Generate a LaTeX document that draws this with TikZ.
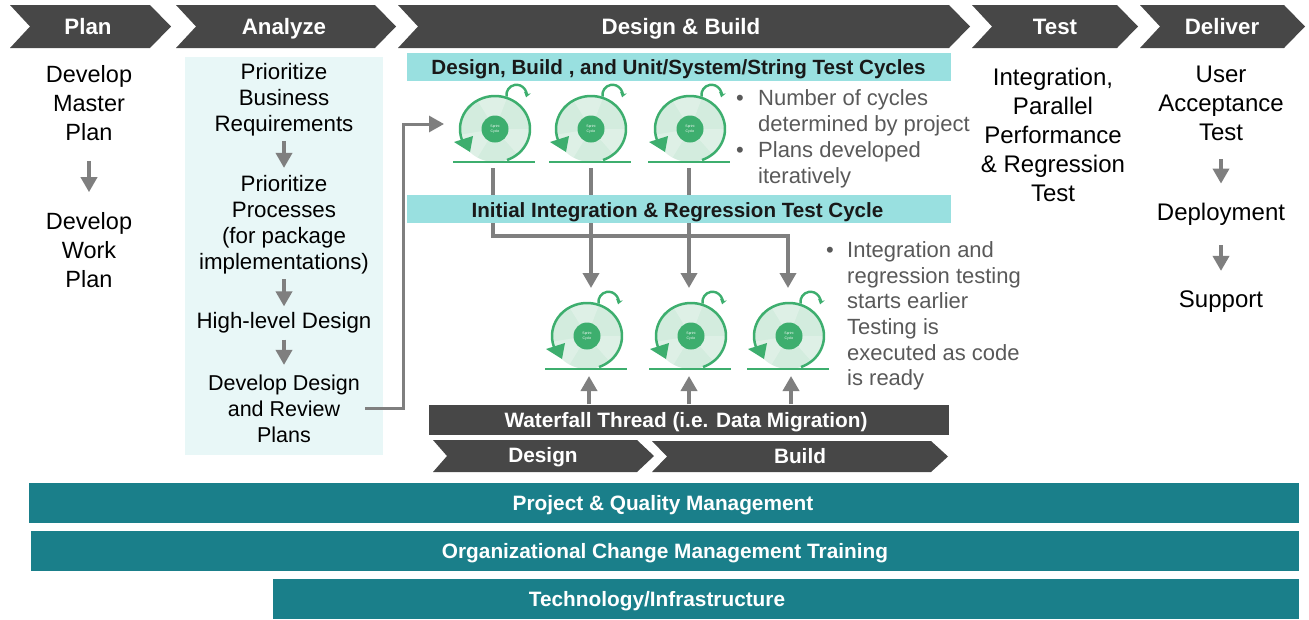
\documentclass[tikz,border=0pt]{standalone}
\usepackage{fontspec}
\setmainfont{Liberation Sans}
\usetikzlibrary{arrows.meta}
\definecolor{chevrongray}{HTML}{474747}
\definecolor{arrowgray}{HTML}{7F7F7F}
\definecolor{palecyan}{HTML}{E8F7F7}
\definecolor{bandcyan}{HTML}{99E0E0}
\definecolor{barteal}{HTML}{1A7F8A}
\definecolor{cyclegreen}{HTML}{3DAE6E}
\definecolor{discgreen}{HTML}{D3ECDE}
\definecolor{notegray}{HTML}{595959}
\tikzset{
  steptext/.style={inner sep=0pt,align=center,text=black,font=\fontsize{22.3}{26}\selectfont},
  plantext/.style={steptext,font=\fontsize{23.5}{29}\selectfont},
  testtext/.style={steptext,font=\fontsize{24}{29.2}\selectfont},
  headtext/.style={inner sep=0pt,text height=16pt,text depth=0pt,text=white,font=\fontsize{22.3}{26}\selectfont\bfseries},
  bartext/.style={inner sep=0pt,text height=15pt,text depth=0pt,text=white,font=\fontsize{20.8}{24}\selectfont\bfseries},
  bandtext/.style={inner sep=0pt,text height=15pt,text depth=0pt,text=black!90,font=\fontsize{20.6}{24}\selectfont\bfseries},
  notetext/.style={inner sep=0pt,align=left,anchor=west,text=notegray,font=\fontsize{22}{25.7}\selectfont},
  flowarrow/.style={draw=arrowgray,line width=3.6pt,-{Triangle[length=15pt,width=16pt]}},
  cycleicon/.pic={
    % Disc with pale blades
    \fill[discgreen] (42,-33) ellipse [x radius=35,y radius=33];
    \foreach \a in {0,120,240} {
      \fill[white,opacity=0.25] (42,-33) -- (42+35*cos \a,-33+33*sin \a)
        arc[start angle=\a,delta angle=50,x radius=35,y radius=33] -- cycle;
    }
    % Ground line and round arrow
    \draw[cyclegreen,line width=2.5pt] (0,0) -- (82,0);
    \draw[cyclegreen,line width=2.5pt] (42+35*cos 70,-33+33*sin 70)
      arc[start angle=70,end angle=-213,x radius=35,y radius=33];
    \fill[cyclegreen] (1,-20) -- (20,-26) -- (17,-10) -- cycle;
    % Small hook
    \draw[cyclegreen,line width=2.4pt,-{Stealth[length=5pt,width=7pt]}] (53.6,-65.5)
      arc[start angle=170,end angle=375,radius=10];
    % Centre
    \node[circle,fill=cyclegreen,minimum size=27pt,inner sep=0pt,align=center,text=white,
      font=\fontsize{3.5}{4.5}\selectfont] (-hub) at (42,-33) {Sprint\\Cycle};
  }
}
\begin{document}
\begin{tikzpicture}[x=1pt,y=-1pt]
  \useasboundingbox (0,0) rectangle (1309,619);
  % Phase chevrons
  \foreach \nm/\xa/\xb/\xt/\lbl in {plan/10/150/88/Plan,analyze/176/375/284/Analyze,
      design/398/949/681/Design \& Build,test/972/1117/1055/Test,deliver/1140/1284/1222/Deliver} {
    \fill[chevrongray] (\xa,5) -- (\xb,5) -- (\xb+21,26.5) -- (\xb,48) -- (\xa,48) -- (\xa+20,26.5) -- cycle;
    \node[headtext] (\nm) at (\xt,26) {\lbl};
  }
  % Analyze background
  \fill[palecyan] (185,57) rectangle (383,455);
  % Plan column
  \node[plantext] (masterplan) at (89,103) {Develop\\Master\\Plan};
  \node[plantext] (workplan) at (89,250) {Develop\\Work\\Plan};
  \draw[flowarrow,shorten <=20pt,shorten >=20pt] (masterplan.south) -- (workplan.north);
  % Analyze column
  \node[steptext] (bizreq) at (284,99.5) {Prioritize\\Business\\Requirements};
  \node[steptext] (processes) at (284,224.5) {Prioritize\\Processes\\(for package\\implementations)};
  \node[steptext] (highlevel) at (284,323) {High-level Design};
  \node[steptext,font=\fontsize{21.5}{26}\selectfont] (reviewplan) at (284,409) {Develop Design\\and Review\\Plans};
  \draw[flowarrow,shorten <=5pt,shorten >=7pt] (bizreq.south) -- (processes.north);
  \draw[flowarrow,shorten <=5pt,shorten >=6pt] (processes.south) -- (highlevel.north);
  \draw[flowarrow,shorten <=6pt,shorten >=10pt] (highlevel.south) -- (reviewplan.north);
  % Test and Deliver columns
  \node[testtext] (integration) at (1053,135) {Integration,\\Parallel\\Performance\\\& Regression\\Test};
  \node[testtext] (uat) at (1221,103.5) {User\\Acceptance\\Test};
  \node[testtext] (deployment) at (1221,214) {Deployment};
  \node[testtext] (support) at (1221,302) {Support};
  \draw[flowarrow,shorten <=18pt,shorten >=19pt] (uat.south) -- (deployment.north);
  \draw[flowarrow,shorten <=20pt,shorten >=20pt] (deployment.south) -- (support.north);
  % Sprint icons
  \foreach \nm/\x/\y in {cyc1/453/162,cyc2/549/162,cyc3/648/162,cyc4/545/369,cyc5/649/369,cyc6/747/369} {
    \pic (\nm) at (\x,\y) {cycleicon};
  }
  % Links between the icon rows
  \coordinate (outa) at (493,168);
  \coordinate (outb) at (591,168);
  \coordinate (outc) at (689,168);
  \coordinate (ina) at (591,288);
  \coordinate (inb) at (689,288);
  \coordinate (inc) at (788,288);
  \draw[flowarrow] (outa) |- (788,236) -- (inc);
  \draw[flowarrow] (outb) -- (ina);
  \draw[flowarrow] (outc) -- (inb);
  % Entry from Analyze
  \coordinate (entry) at (444,124);
  \draw[flowarrow,line width=3pt,line join=miter,shorten <=5pt] (reviewplan.east |- 0,408) -- (403,408) -- (403,124) -- (entry);
  % Cyan bands
  \fill[bandcyan] (407,53) rectangle (951,81);
  \node[bandtext] (cycleband) at (678.5,67) {Design, Build , and Unit/System/String Test Cycles};
  \fill[bandcyan] (407,195) rectangle (951,223);
  \node[bandtext] (initband) at (677.5,209.5) {Initial Integration \& Regression Test Cycle};
  % Notes
  \node[notetext] (bulleta) at (736,100) {•};
  \node[notetext] (notea) at (758,113) {Number of cycles\\determined by project};
  \node[notetext] (bulletb) at (736,152) {•};
  \node[notetext] (noteb) at (758,164.5) {Plans developed\\iteratively};
  \node[notetext] (bulletc) at (826,252) {•};
  \node[notetext] (notec) at (847,316) {Integration and\\regression testing\\starts earlier\\Testing is\\executed as code\\is ready};
  % Waterfall thread
  \fill[chevrongray] (429,405) rectangle (949,435);
  \node[bartext] (waterfall) at (686,420) {Waterfall Thread (i.e. Data Migration)};
  \coordinate (upa) at (589,376);
  \coordinate (upb) at (689,376);
  \coordinate (upc) at (791,376);
  \foreach \c in {upa,upb,upc} {
    \draw[flowarrow,shorten <=8pt] (waterfall.north -| \c) -- (\c);
  }
  \fill[chevrongray] (433,440) -- (637,440) -- (654,456) -- (637,472) -- (433,472) -- (447,456) -- cycle;
  \node[bartext] (designstep) at (543,455) {Design};
  \fill[chevrongray] (652,441) -- (931,441) -- (948,456.5) -- (931,472) -- (652,472) -- (667,456.5) -- cycle;
  \node[bartext] (buildstep) at (800,456) {Build};
  % Workstream bars
  \fill[barteal] (29,483) rectangle (1299,523);
  \node[bartext] (projectbar) at (663,503) {Project \& Quality Management};
  \fill[barteal] (31,531) rectangle (1299,571);
  \node[bartext] (changebar) at (665,551) {Organizational Change Management Training};
  \fill[barteal] (273,579) rectangle (1299,619);
  \node[bartext] (techbar) at (657,599) {Technology/Infrastructure};
\end{tikzpicture}
\end{document}
